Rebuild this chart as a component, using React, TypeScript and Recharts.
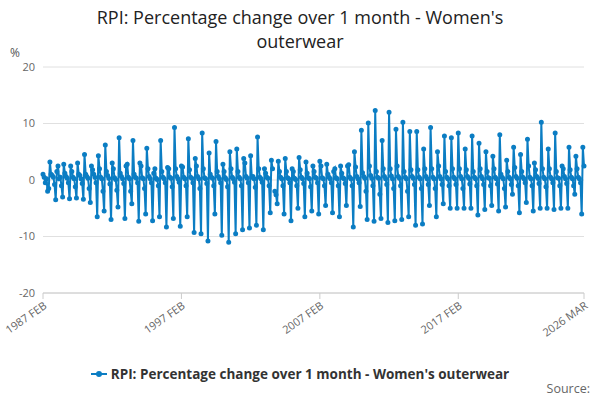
import React from 'react'
import { LineChart, Line, XAxis, YAxis, CartesianGrid } from 'recharts'

const MONTHS = ['JAN', 'FEB', 'MAR', 'APR', 'MAY', 'JUN', 'JUL', 'AUG', 'SEP', 'OCT', 'NOV', 'DEC']
const START_YEAR = 1987
const START_MONTH = 1 // FEB

const xTicks = ['1987 FEB', '1997 FEB', '2007 FEB', '2017 FEB', '2026 MAR']
const yTicks = [-20, -10, 0, 10, 20]

// monthly % change, one row per year (1987 starts Feb, 2026 ends Mar)
const values: (number | null)[] = [
    1.0, 0.5, -0.5, 0.2, -2.0, -1.5, 3.2, 1.0, 0.8, 0.5, -0.8,
    -3.5, 1.5, 2.5, 0.2, 0.5, -1.0, -3.0, 2.8, 1.2, 0.6, 0.3, -0.5,
    -3.3, 2.5, 1.5, 0.5, 0.2, -1.2, -3.2, 3.0, 1.0, 0.8, 0.2, -0.6,
    -3.4, 4.5, 1.0, 0.6, 0.3, -1.5, -4.0, 2.5, 1.8, 1.0, 0.5, -0.5,
    -6.5, 4.3, 2.0, 0.5, 0.2, -2.0, -5.5, 6.2, 1.5, 0.8, 0.3, -0.7,
    -7.0, 3.0, 2.0, 0.4, 0.1, -1.8, -4.8, 7.5, 1.2, 0.6, 0.2, -0.6,
    -6.8, 2.5, 2.8, 0.5, 0.2, -2.0, -4.2, 7.0, 1.0, 0.5, 0.3, -0.5,
    -7.3, 3.0, 2.5, 0.4, 0.2, -1.5, -6.0, 5.6, 2.0, 0.6, 0.2, -0.5,
    -7.2, 1.2, 2.0, 0.3, 0.1, -1.0, -6.5, 7.0, 1.5, 0.5, 0.2, -0.5,
    -8.3, 2.2, 2.0, 0.5, 0.3, -1.2, -6.8, 9.3, 2.0, 0.6, 0.2, -0.4,
    -8.2, 2.5, 2.3, 0.5, 0.2, -1.0, -6.5, 7.3, 1.8, 0.5, 0.3, -0.5,
    -9.3, 3.8, 2.5, 0.6, 0.2, -1.5, -9.5, 8.3, 2.0, 0.4, 0.2, -0.6,
    -10.8, 4.8, 1.0, 0.5, 0.3, -1.0, -6.0, 6.8, 1.5, 0.6, 0.2, -0.5,
    -9.8, 2.8, 1.5, 0.4, 0.1, -1.2, -11.0, 5.0, 2.0, 0.5, 0.2, -0.4,
    -9.5, 5.5, 1.5, 0.5, 0.2, -1.0, -8.8, 3.8, 3.0, 0.6, 0.3, -0.5,
    -8.5, 4.3, 0.5, 0.6, 0.2, -1.3, -8.0, 7.6, 2.0, 0.5, 0.2, -0.4,
    -8.8, 2.0, 1.2, 0.5, 0.3, -1.0, -5.8, 3.5, 2.0, null, -2.0, -2.6,
    -4.2, 3.3, 1.5, 0.5, 0.2, -1.0, -6.0, 3.8, 1.5, 0.4, 0.2, -0.5,
    -7.2, 2.0, 1.5, 0.3, 0.1, -1.0, -5.0, 4.0, 1.8, 0.5, 0.2, -0.6,
    -6.5, 3.2, 1.2, 0.4, 0.2, -1.2, -5.5, 2.5, 1.5, 0.5, 0.3, -0.5,
    -6.0, 3.3, 2.5, 0.4, 0.2, -1.0, -4.5, 2.8, 1.0, 0.5, 0.2, -0.5,
    -5.8, 1.5, 2.0, 0.4, 0.2, -1.0, -6.5, 2.5, 1.2, 0.4, 0.2, -0.6,
    -4.5, 2.5, 2.7, 0.5, 0.2, -1.0, -8.3, 5.0, 2.3, 0.6, 0.2, -0.5,
    -4.7, 8.8, 1.3, 0.6, 0.3, -2.0, -7.0, 10.1, 2.5, 0.8, 0.3, -1.0,
    -7.3, 12.3, 1.5, 0.5, 0.3, -2.5, -6.8, 7.0, 2.0, 0.6, 0.2, -0.8,
    -7.5, 12.0, 2.0, 0.7, 0.2, -1.5, -7.2, 9.0, 2.5, 0.6, 0.3, -1.0,
    -7.0, 10.2, 1.5, 0.5, 0.2, -2.0, -6.5, 8.6, 1.8, 0.6, 0.3, -0.8,
    -8.0, 8.6, 1.8, 0.5, 0.2, -1.5, -7.8, 5.5, 2.0, 0.6, 0.2, -0.8,
    -4.5, 9.3, 2.0, 0.5, 0.2, -1.5, -6.5, 5.0, 2.5, 0.6, 0.2, -0.8,
    -4.2, 7.8, 1.5, 0.5, 0.2, -1.0, -5.0, 7.5, 2.0, 0.5, 0.2, -0.8,
    -5.0, 8.3, 2.0, 0.6, 0.2, -1.5, -5.0, 5.5, 1.8, 0.6, 0.3, -0.7,
    -5.0, 7.8, 1.5, 0.5, 0.2, -1.0, -6.2, 6.5, 2.0, 0.6, 0.2, -0.8,
    -5.2, 5.0, 1.5, 0.4, 0.3, -1.0, -4.5, 4.2, 2.0, 0.5, 0.2, -0.7,
    -5.5, 8.0, 1.0, 0.5, 0.2, -1.5, -4.8, 3.5, 1.5, 0.5, 0.2, -0.8,
    -2.5, 5.8, 2.2, 0.6, 0.3, -1.0, -5.8, 4.5, 1.5, 0.5, 0.2, -0.5,
    -4.0, 7.2, 2.5, 0.5, 0.2, -1.0, -5.5, 3.0, 1.8, 0.6, 0.3, -0.6,
    -5.0, 10.2, 2.0, 0.5, 0.2, -1.2, -5.0, 5.5, 2.0, 0.5, 0.2, -0.5,
    -5.2, 8.3, 1.5, 0.4, 0.3, -1.0, -5.0, 2.5, 2.0, 0.6, 0.2, -0.6,
    -5.0, 5.8, 1.8, 0.5, 0.2, -1.0, -2.5, 4.2, 2.0, 0.5, 0.2, -0.5,
    -6.0, 5.8, 2.5,
]

const data = values.map((v, i) => {
    const m = START_MONTH + i
    const year = START_YEAR + Math.floor(m / 12)
    return { date: `${year} ${MONTHS[m % 12]}`, value: v }
})

const BLUE = '#0b7dc3'
const FONT = '"Open Sans", "DejaVu Sans", sans-serif'

export default function App() {
    return (
        <div style={{ position: 'absolute', left: 0, top: 0, width: 600, height: 400, fontFamily: FONT, background: '#fff' }}>
            <div style={{ position: 'absolute', top: 5, left: 0, width: 600, textAlign: 'center', fontSize: 18, lineHeight: '24px', color: '#222' }}>
                RPI: Percentage change over 1 month - Women's<br />outerwear
            </div>
            <div style={{ position: 'absolute', top: 44, left: 10, fontSize: 12, color: '#555' }}>%</div>
            <LineChart width={600} height={400} data={data} margin={{ top: 67, right: 16, bottom: 57, left: 10 }}>
                <CartesianGrid vertical={false} stroke="#e0e0e0" />
                <XAxis
                    dataKey="date"
                    ticks={xTicks}
                    interval={0}
                    height={50}
                    tick={{ fontSize: 11, fill: '#666', angle: -35, textAnchor: 'end' }}
                    stroke="#ccc"
                    tickSize={6}
                />
                <YAxis
                    domain={[-20, 20]}
                    ticks={yTicks}
                    width={33}
                    axisLine={false}
                    tickLine={false}
                    tick={{ fontSize: 11, fill: '#666' }}
                />
                <Line
                    type="linear"
                    dataKey="value"
                    stroke={BLUE}
                    strokeWidth={2}
                    dot={{ r: 1.5, fill: BLUE, stroke: BLUE }}
                    connectNulls={false}
                    isAnimationActive={false}
                />
            </LineChart>
            <div style={{ position: 'absolute', top: 365, left: 0, width: 600, textAlign: 'center', fontSize: 13.5, fontWeight: 'bold', color: '#333' }}>
                <svg width={16} height={10} style={{ marginRight: 4 }}>
                    <line x1={0} y1={5} x2={16} y2={5} stroke={BLUE} strokeWidth={2} />
                    <circle cx={8} cy={5} r={3} fill={BLUE} />
                </svg>
                RPI: Percentage change over 1 month - Women's outerwear
            </div>
            <div style={{ position: 'absolute', top: 380, right: 10, fontSize: 12.5, color: '#666' }}>Source:</div>
        </div>
    )
}
